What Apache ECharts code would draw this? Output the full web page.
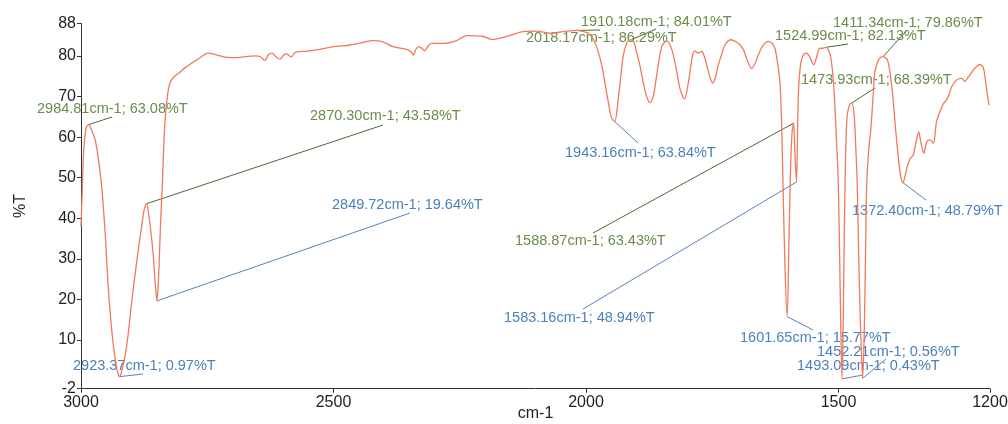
<!DOCTYPE html>
<html>
<head>
<meta charset="utf-8">
<title>IR spectrum</title>
<script src="https://cdn.jsdelivr.net/npm/echarts@6.0.0/dist/echarts.min.js"></script>
<style>
  html, body { margin: 0; padding: 0; background: #ffffff; }
  #chart { width: 1008px; height: 424px; }
</style>
</head>
<body>
<div id="chart"></div>
<script>
// Traced spectrum (wavenumber in cm-1, transmittance in %T), excluding the labelled peaks
const wavenumber = [
  3000, 2998, 2995, 2991, 2988, 2980, 2972, 2966, 2959, 2952, 2946, 2938, 2930, 2926, 2919, 2912, 2906, 2900,
  2890, 2880, 2875, 2866, 2861, 2857, 2853, 2847, 2845, 2842, 2839, 2836, 2833, 2829, 2824, 2815, 2807, 2795,
  2781, 2765, 2748, 2730, 2715, 2690, 2670, 2655, 2645, 2636, 2629, 2622, 2614, 2606, 2599, 2593, 2587, 2583,
  2578, 2573, 2553, 2533, 2500, 2467, 2440, 2424, 2405, 2382, 2355, 2346, 2342, 2337, 2332, 2326, 2319, 2313,
  2306, 2283, 2256, 2236, 2203, 2187, 2157, 2124, 2098, 2071, 2045, 2030, 2005, 1995, 1985, 1977, 1969, 1962,
  1956, 1950, 1936, 1931, 1926, 1918, 1904, 1900, 1893, 1887, 1880, 1873, 1866, 1860, 1850, 1840, 1833, 1827,
  1820, 1814, 1805, 1797, 1789, 1784, 1778, 1771, 1766, 1761, 1755, 1749, 1743, 1738, 1731, 1725, 1713, 1703,
  1695, 1688, 1682, 1672, 1665, 1659, 1650, 1639, 1632, 1626, 1621, 1616, 1613, 1610, 1606, 1598, 1595, 1592,
  1586, 1581, 1579, 1576, 1573, 1568, 1564, 1559, 1553, 1549, 1545, 1541, 1537, 1531, 1519, 1515, 1510, 1505,
  1500.5, 1497, 1495, 1491, 1489, 1487, 1485, 1482.6, 1478, 1469, 1466, 1463, 1459, 1455, 1449, 1446, 1444, 1440,
  1436, 1434, 1431, 1428, 1421, 1416, 1406, 1402, 1397, 1392, 1387, 1382, 1377, 1368, 1365, 1358, 1352, 1345,
  1341, 1338, 1335, 1331, 1328, 1325, 1319, 1312, 1306, 1299, 1292, 1286, 1281, 1276, 1266, 1256, 1250, 1245,
  1240, 1230, 1220, 1213, 1207, 1202
];
const transmittance = [
  38, 45, 56, 61.5, 62.8, 62, 59.3, 55, 47.8, 36, 23, 11, 3.5, 1.5, 2.5, 6.5, 12, 19,
  29, 38, 42, 41, 36, 31, 24, 24, 30, 40, 48, 58, 65, 70, 73.3, 75, 75.7, 77,
  78.2, 79.5, 80.7, 80.2, 79.7, 79.6, 79.9, 80, 79.8, 78.9, 80.3, 80.7, 79.8, 79.2, 80.2, 80.5, 80, 79.8,
  80.6, 81, 81.2, 81.5, 82.3, 82.7, 83.4, 83.8, 83.6, 82.3, 81.6, 81, 80.2, 81.6, 82.3, 82, 81.3, 82.4,
  83.1, 83.1, 83.8, 85, 84.8, 84.1, 84.8, 86, 86.1, 85.6, 86.0, 86.2, 86, 85.6, 84, 81.5, 77.8, 73,
  68.7, 65, 69.6, 75, 80.2, 83.5, 83, 81, 77.5, 73.7, 70, 68.5, 70.5, 75.3, 82.3, 83.7, 82.5, 80.2,
  76, 72, 69.4, 73.7, 80.2, 81.2, 80.7, 81.1, 80, 77.8, 75, 73.3, 75, 77.8, 80.5, 82.7, 84, 83.5,
  82.7, 81.5, 79.4, 76.9, 78.2, 80.2, 82.5, 83.6, 83.2, 81.9, 78.5, 73.7, 65, 49, 28, 35, 52, 61,
  55, 62, 72, 77, 79.2, 80.5, 80.7, 80.2, 78.6, 77.8, 79, 80.8, 81.9, 81.9, 81.2, 79.5, 73.7, 62,
  49, 25, 10, 12, 32, 49, 60, 65.5, 68, 65.5, 58, 49, 25, 8, 12, 35, 49, 57,
  62, 65.4, 71, 76.1, 79, 79.7, 79.5, 78.6, 75, 69.6, 62, 55.6, 50.5, 50.5, 52.3, 54.7, 55.6, 59.7,
  61.2, 59.5, 57.7, 56, 57.5, 58.9, 59.3, 58.5, 63.8, 66.3, 68.3, 69.2, 70.5, 72.4, 74.1, 74.5, 73.7, 74.5,
  75.3, 77, 77.9, 77, 72, 67.9
];

// Labelled peak positions and their transmittance
const peakWavenumber = [2984.81, 2923.37, 2870.30, 2849.72, 2018.17, 1943.16, 1910.18, 1601.65,
                        1588.87, 1583.16, 1524.99, 1493.09, 1473.93, 1452.21, 1411.34, 1372.40];
const peakTransmittance = [63.08, 0.97, 43.58, 19.64, 86.29, 63.84, 84.01, 15.77,
                           63.43, 48.94, 82.13, 0.43, 68.39, 0.56, 79.86, 48.79];
const peakKind = ['max', 'min', 'max', 'min', 'max', 'min', 'max', 'min',
                  'max', 'min', 'max', 'min', 'max', 'min', 'max', 'min'];

// Axis ticks
const xTicks = [3000, 2500, 2000, 1500, 1200];
const yTicks = [-2, 10, 20, 30, 40, 50, 60, 70, 80, 88];

// Placement of each callout: text left edge / middle, and the end of its leader line (pixels)
const calloutLayout = [
  { tx: 37,  ty: 109, ex: 112, ey: 117 },
  { tx: 73,  ty: 366, ex: 143, ey: 374 },
  { tx: 310, ty: 116, ex: 383, ey: 125 },
  { tx: 332, ty: 205, ex: 410, ey: 213 },
  { tx: 526, ty: 38,  ex: 600, ey: 30 },
  { tx: 565, ty: 153, ex: 638, ey: 143 },
  { tx: 581, ty: 22,  ex: 656, ey: 29 },
  { tx: 740, ty: 338, ex: 813, ey: 330 },
  { tx: 515, ty: 241, ex: 593, ey: 233 },
  { tx: 504, ty: 318, ex: 583, ey: 309 },
  { tx: 775, ty: 36,  ex: 848, ey: 44 },
  { tx: 797, ty: 366, ex: 863, ey: 375 },
  { tx: 801, ty: 80,  ex: 875, ey: 88 },
  { tx: 817, ty: 352, ex: 886, ey: 359 },
  { tx: 833, ty: 23,  ex: 907, ey: 30 },
  { tx: 852, ty: 211, ex: 926, ey: 200 }
];

const kindStyle = {
  max: { text: '#6c8c4a', line: '#4d6a33' },
  min: { text: '#4a80bd', line: '#5b82b8' }
};

// Merge traced points with the labelled peaks, ordered from high to low wavenumber
const points = wavenumber.map((w, i) => [w, transmittance[i]])
  .concat(peakWavenumber.map((w, i) => [w, peakTransmittance[i]]))
  .sort((a, b) => b[0] - a[0]);

const chart = echarts.init(document.getElementById('chart'), null, { renderer: 'canvas' });
const axisFont = { fontFamily: 'Liberation Sans, Arial, sans-serif', fontSize: 16, color: '#1e1e1e' };
const plainNumber = v => String(v);

chart.setOption({
  animation: false,
  backgroundColor: '#ffffff',
  grid: { left: 81, right: 18, top: 23.5, bottom: 35.3, containLabel: false, outerBoundsMode: 'none' },
  xAxis: {
    type: 'value',
    inverse: true,
    min: 1200,
    max: 3000,
    name: 'cm-1',
    nameLocation: 'middle',
    nameGap: 17,
    nameMoveOverlap: false,
    nameTextStyle: axisFont,
    axisLine: { onZero: false, lineStyle: { color: '#333', width: 1 } },
    axisTick: { show: true, length: 4, customValues: xTicks, lineStyle: { color: '#333' } },
    axisLabel: Object.assign({ margin: 6, customValues: xTicks, formatter: plainNumber }, axisFont),
    splitLine: { show: false }
  },
  yAxis: {
    type: 'value',
    min: -2,
    max: 88,
    name: '%T',
    nameLocation: 'middle',
    nameGap: 52,
    nameMoveOverlap: false,
    nameTextStyle: axisFont,
    axisLine: { show: true, onZero: false, lineStyle: { color: '#333', width: 1 } },
    axisTick: { show: true, length: 4, customValues: yTicks, lineStyle: { color: '#333' } },
    axisLabel: Object.assign({ margin: 5, customValues: yTicks, formatter: plainNumber }, axisFont),
    splitLine: { show: false }
  },
  series: [{
    type: 'line',
    data: points,
    showSymbol: false,
    smooth: 0.3,
    lineStyle: { color: '#f07a5a', width: 1.3 },
    silent: true
  }]
});

// Callouts: leader line from each peak to its text
const graphics = [];
peakWavenumber.forEach((w, i) => {
  const p = chart.convertToPixel({ seriesIndex: 0 }, [w, peakTransmittance[i]]);
  const lay = calloutLayout[i];
  const st = kindStyle[peakKind[i]];
  graphics.push({
    type: 'line',
    shape: { x1: p[0], y1: p[1], x2: lay.ex, y2: lay.ey },
    style: { stroke: st.line, lineWidth: 1 },
    silent: true
  });
  graphics.push({
    type: 'text',
    x: lay.tx,
    y: lay.ty,
    style: {
      text: w.toFixed(2) + 'cm-1; ' + peakTransmittance[i].toFixed(2) + '%T',
      fill: st.text,
      font: '14.5px "Liberation Sans", Arial, sans-serif',
      align: 'left',
      verticalAlign: 'middle',
      textAlign: 'left',
      textVerticalAlign: 'middle'
    },
    silent: true
  });
});
chart.setOption({ graphic: graphics });
</script>
</body>
</html>
